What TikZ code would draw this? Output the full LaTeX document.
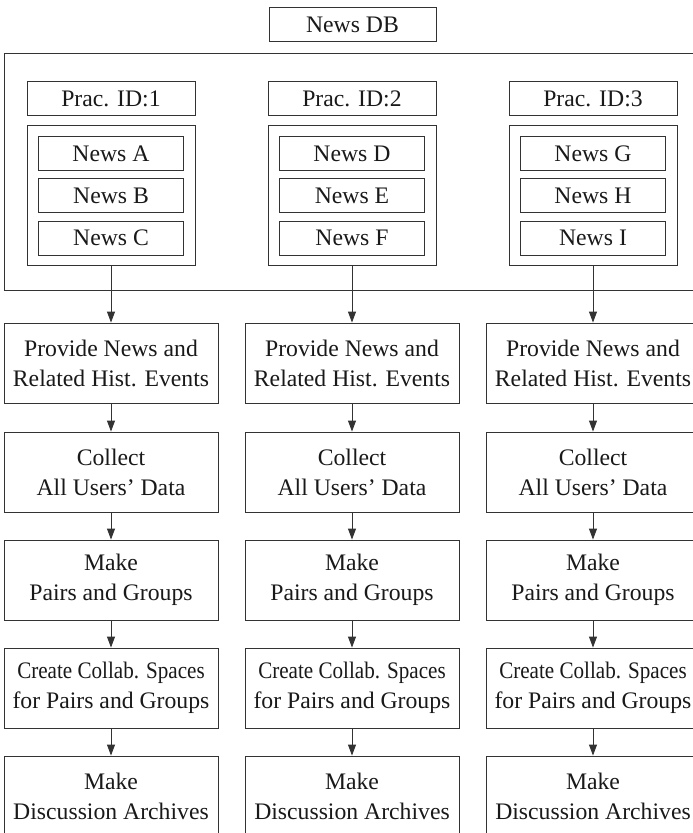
\documentclass[tikz,border=0pt]{standalone}
\usepackage{fontspec}
\usepackage{graphicx}
\setmainfont{Liberation Serif}
\usetikzlibrary{arrows.meta}
\begin{document}
\begin{tikzpicture}[x=1pt,y=-1pt,
  box/.style={draw=black!80, line width=0.9pt, rectangle, inner sep=0pt,
    text=black!90, font=\fontsize{23.7}{30}\selectfont, align=center},
  tag/.style={box, minimum width=168pt, minimum height=34pt},
  item/.style={box, minimum width=145pt, minimum height=34pt},
  holder/.style={box, minimum width=168pt, minimum height=140pt},
  stepbox/.style={box, minimum width=214pt, minimum height=80pt},
  flow/.style={draw=black!80, line width=0.9pt, -{Triangle[length=11pt,width=8pt]}}]
\useasboundingbox (0,0) rectangle (693,833);
\clip (0,0) rectangle (693,833);

% database title and its frame
\node[box, minimum width=167pt, minimum height=34pt] (newsdb) at (352.5,24.5) {News DB};
\node[box, minimum width=716pt, minimum height=237pt] (dbframe) at (362,171.5) {};

% one column per practice
\foreach \c/\x/\a/\b/\d in {1/111/A/B/C, 2/352/D/E/F, 3/593/G/H/I} {
  \node[tag] (prac\c) at (\x,98.5) {Prac. ID:\c};
  \node[holder] (hold\c) at (\x,195) {};
  \node[item] (news\c a) at (\x,153.5) {News \a};
  \node[item] (news\c b) at (\x,195.5) {News \b};
  \node[item] (news\c c) at (\x,238) {News \d};
  \node[stepbox] (s\c a) at (\x,363) {Provide News and\\Related Hist. Events};
  \node[stepbox] (s\c b) at (\x,472) {Collect\\All Users’ Data};
  \node[stepbox] (s\c c) at (\x,580) {Make\\Pairs and Groups};
  \node[stepbox] (s\c d) at (\x,688) {\scalebox{0.89}[1]{Create Collab. Spaces}\\for Pairs and Groups};
  \node[stepbox] (s\c e) at (\x,796) {Make\\Discussion Archives};
  \draw[flow] (hold\c.south) -- (s\c a.north);
  \draw[flow] (s\c a) -- (s\c b);
  \draw[flow] (s\c b) -- (s\c c);
  \draw[flow] (s\c c) -- (s\c d);
  \draw[flow] (s\c d) -- (s\c e);
}
\end{tikzpicture}
\end{document}
